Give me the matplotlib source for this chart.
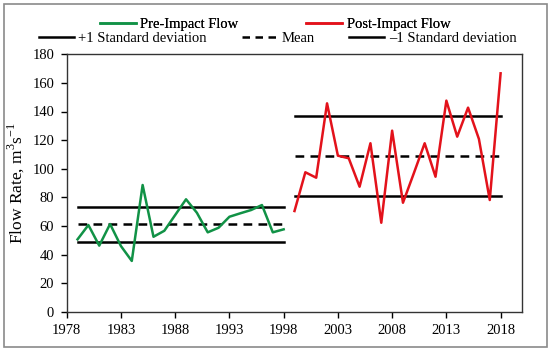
import numpy as np
import matplotlib
matplotlib.use('Agg')
import matplotlib.pyplot as plt
from matplotlib.lines import Line2D
from matplotlib.patches import Rectangle

plt.rcParams['font.family'] = ['Liberation Serif', 'DejaVu Serif']
plt.rcParams['mathtext.fontset'] = 'custom'
plt.rcParams['mathtext.rm'] = 'Liberation Serif'

# pre-impact flow 1979-1998
pre_years = np.arange(1979, 1999)
pre_flow = [50.6, 60.6, 46.2, 61.3, 45.9, 35.5, 88.6, 52.4, 56.6, 67.6,
            78.6, 69.2, 55.5, 58.7, 66.4, 68.8, 71.1, 74.6, 55.5, 57.6]

# post-impact flow 1999-2018
post_years = np.arange(1999, 2019)
post_flow = [70.4, 97.5, 93.7, 145.7, 109.1, 107.3, 87.4, 117.8, 62.2, 126.6,
             76.2, 96.8, 117.8, 94.4, 147.6, 122.4, 142.7, 120.8, 78.1, 166.7]

xticks = list(range(1978, 2019, 5))
yticks = list(range(0, 181, 20))

green = '#119246'
red = '#e3121b'

fig = plt.figure(figsize=(5.5, 3.54), dpi=100)
fig.patches.append(Rectangle((4/550, 1-347/354), 543/550, 343/354,
                             transform=fig.transFigure, fill=False,
                             edgecolor='#8a8a8a', lw=1.2))
ax = fig.add_axes([66.7/550, 1-311.7/354, 455.6/550, 257.4/354])

for yrs, vals, col in [(pre_years, pre_flow, green), (post_years, post_flow, red)]:
    v = np.array(vals)
    m = v.mean()
    s = v.std(ddof=1)
    x = [yrs[0], yrs[-1]]
    ax.plot(x, [m + s]*2, color='black', lw=1.8)
    ax.plot(x, [m - s]*2, color='black', lw=1.8)
    ax.plot(x, [m]*2, color='black', lw=1.8, linestyle=(0, (3.5, 2.5)))
    ax.plot(yrs, v, color=col, lw=1.8)

ax.set_xlim(1978, 2020)
ax.set_ylim(0, 180)
ax.set_xticks(xticks)
ax.set_yticks(yticks)
ax.tick_params(direction='out', length=4, width=1, labelsize=10.5, colors='black')
ax.tick_params(axis='x', pad=5)
ax.tick_params(axis='y', pad=5)
for sp in ax.spines.values():
    sp.set_color('#333333')
    sp.set_linewidth(1)
ax.set_ylabel('Flow Rate, m$^3$s$^{-1}$', fontsize=12.5, labelpad=4)

h1 = [Line2D([], [], color=green, lw=1.8), Line2D([], [], color=red, lw=1.8)]
leg1 = fig.legend(h1, ['Pre-Impact Flow', 'Post-Impact Flow'], loc='center',
                  bbox_to_anchor=(0.5, 1-24/354), ncol=2, frameon=False,
                  fontsize=10.5, handlelength=2.5, handletextpad=0.3,
                  columnspacing=4.6, borderpad=0, borderaxespad=0)
h2 = [Line2D([], [], color='black', lw=1.8),
      Line2D([], [], color='black', lw=1.8, linestyle=(0, (3, 2.2))),
      Line2D([], [], color='black', lw=1.8)]
leg2 = fig.legend(h2, ['+1 Standard deviation', 'Mean', '\u20131 Standard deviation'],
                  loc='center', bbox_to_anchor=(0.505, 1-38.5/354), ncol=3,
                  frameon=False, fontsize=10.5, handlelength=2.4,
                  handletextpad=0.3, columnspacing=2.4, borderpad=0,
                  borderaxespad=0)
fig.add_artist(leg1)

fig.savefig('out.png', dpi=100)
